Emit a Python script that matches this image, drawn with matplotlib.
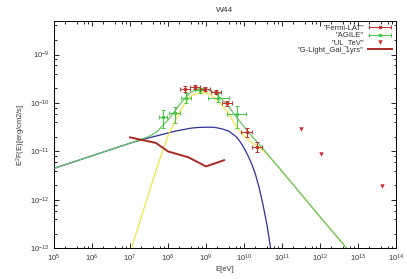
import numpy as np
import matplotlib
matplotlib.use("Agg")
import matplotlib.pyplot as plt
from matplotlib.ticker import LogLocator, FixedLocator, NullFormatter
from matplotlib.legend_handler import HandlerErrorbar
from matplotlib.container import ErrorbarContainer

plt.rcParams['font.family'] = ['Liberation Sans', 'DejaVu Sans']
plt.rcParams['mathtext.default'] = 'regular'

# ---------------- data ----------------
# Fermi-LAT points
fermi_E = [2.8e8, 5.1e8, 9.4e8, 1.8e9, 3.5e9, 1.17e10, 2.2e10]
fermi_F = [1.93e-10, 2.1e-10, 1.95e-10, 1.67e-10, 9.8e-11, 2.5e-11, 1.26e-11]
fermi_Flo = [1.7e-10, 1.9e-10, 1.8e-10, 1.5e-10, 8.8e-11, 1.95e-11, 9.8e-12]
fermi_Fhi = [2.2e-10, 2.3e-10, 2.1e-10, 1.85e-10, 1.1e-10, 3.1e-11, 1.6e-11]
fermi_Elo = [2.1e8, 3.8e8, 7.0e8, 1.35e9, 2.6e9, 8.5e9, 1.6e10]
fermi_Ehi = [3.8e8, 6.9e8, 1.27e9, 2.45e9, 4.7e9, 1.6e10, 3.0e10]

# AGILE points
agile_E = [7.4e7, 1.5e8, 2.97e8, 6.9e8, 2.1e9, 6.4e9]
agile_F = [5.06e-11, 6.1e-11, 1.28e-10, 1.84e-10, 1.28e-10, 5.9e-11]
agile_Flo = [3.0e-11, 3.8e-11, 1.02e-10, 1.63e-10, 1.04e-10, 3.0e-11]
agile_Fhi = [7.1e-11, 8.3e-11, 1.6e-10, 2.05e-10, 1.58e-10, 8.7e-11]
agile_Elo = [5.9e7, 1.08e8, 2.2e8, 5.1e8, 1.1e9, 3.5e9]
agile_Ehi = [9.3e7, 2.1e8, 4.0e8, 9.3e8, 4.0e9, 1.15e10]

# TeV upper limits
ul_E = [3.2e11, 1.05e12, 4.2e13]
ul_F = [2.95e-11, 8.7e-12, 1.95e-12]

# G-Light Galactic 1 yr sensitivity
glight_E = [1e7, 4.8e7, 1e8, 3.4e8, 1e9, 3e9]
glight_F = [1.95e-11, 1.5e-11, 1e-11, 7.6e-12, 4.9e-12, 6.6e-12]

# model curves (log10 E, log10 E^2F)
total_logE = [5.0, 6.0, 6.5, 7.0, 7.26, 7.5, 7.7, 7.88, 8.0, 8.14, 8.3, 8.45, 8.6,
              8.75, 8.9, 9.05, 9.2, 9.4, 9.6, 9.8, 10.0, 10.2, 10.4, 10.6, 11.0,
              11.5, 12.0, 12.5, 12.7]
total_logF = [-11.35, -11.09, -10.96, -10.83, -10.76, -10.69, -10.60, -10.45, -10.35,
              -10.21, -10.04, -9.90, -9.78, -9.72, -9.70, -9.72, -9.78, -9.91, -10.08,
              -10.29, -10.49, -10.68, -10.85, -11.04, -11.41, -11.88, -12.35, -12.81,
              -13.0]

pion_logE = [7.04, 7.2, 7.4, 7.6, 7.8, 8.0, 8.2, 8.4, 8.6, 8.8, 9.0, 9.2, 9.4, 9.6,
             9.8, 10.0, 10.2, 10.4, 10.6, 11.0, 11.5, 12.0, 12.5, 12.7]
pion_logF = [-13.0, -12.6, -12.1, -11.6, -11.12, -10.68, -10.35, -10.06, -9.86, -9.79,
             -9.79, -9.87, -10.03, -10.22, -10.49, -10.67, -10.82, -10.91, -11.05,
             -11.41, -11.88, -12.35, -12.81, -13.0]

brems_logE = [5.0, 6.0, 6.5, 7.0, 7.26, 7.5, 7.8, 8.0, 8.2, 8.4, 8.6, 8.8, 9.0, 9.2,
              9.4, 9.6, 9.8, 9.9, 10.0, 10.1, 10.2, 10.3, 10.4, 10.5, 10.6, 10.65, 10.7]
brems_logF = [-11.35, -11.09, -10.96, -10.83, -10.77, -10.72, -10.66, -10.62, -10.58,
              -10.55, -10.52, -10.505, -10.50, -10.50, -10.53, -10.58, -10.70, -10.80,
              -10.93, -11.08, -11.25, -11.47, -11.75, -12.1, -12.5, -12.74, -13.0]

xtick_exp = list(range(5, 15))
ytick_exp = [-13, -12, -11, -10, -9]

# ---------------- plot ----------------
fig = plt.figure(figsize=(4.07, 2.79), dpi=100)
ax = fig.add_axes([54/407, 1-248.3/279, (396-54)/407, (248.3-20.7)/279])
ax.set_xscale('log')
ax.set_yscale('log')

c_fermi = '#c0302a'
c_agile = '#44c844'
c_total = '#66c466'
c_pion = '#f2e545'
c_brems = '#30309a'
c_gl = '#a82a22'

ax.plot(10**np.array(brems_logE), 10**np.array(brems_logF), color=c_brems, lw=0.9, zorder=2)
ax.plot(10**np.array(pion_logE), 10**np.array(pion_logF), color=c_pion, lw=0.9, zorder=2)
ax.plot(10**np.array(total_logE), 10**np.array(total_logF), color=c_total, lw=0.9, zorder=3)

fE = np.array(fermi_E); fF = np.array(fermi_F)
ax.errorbar(fE, fF,
            xerr=[fE - np.array(fermi_Elo), np.array(fermi_Ehi) - fE],
            yerr=[fF - np.array(fermi_Flo), np.array(fermi_Fhi) - fF],
            fmt='o', ms=1.6, color=c_fermi, ecolor=c_fermi, elinewidth=0.7, capsize=1.5,
            capthick=0.7, zorder=5)
aE = np.array(agile_E); aF = np.array(agile_F)
ax.errorbar(aE, aF,
            xerr=[aE - np.array(agile_Elo), np.array(agile_Ehi) - aE],
            yerr=[aF - np.array(agile_Flo), np.array(agile_Fhi) - aF],
            fmt='o', ms=1.6, color=c_agile, ecolor=c_agile, elinewidth=0.7, capsize=1.5,
            capthick=0.7, zorder=4)
ax.plot(ul_E, ul_F, 'v', color=c_fermi, ms=3.2, mec='none', zorder=5)
ax.plot(glight_E, glight_F, color=c_gl, lw=1.4, zorder=4)

# legend proxies
h1 = ax.errorbar([np.nan], [np.nan], xerr=[1], fmt='o', ms=1.6, color=c_fermi,
                 elinewidth=0.7, capsize=1.5, capthick=0.7)
h2 = ax.errorbar([np.nan], [np.nan], xerr=[1], fmt='o', ms=1.6, color=c_agile,
                 elinewidth=0.7, capsize=1.5, capthick=0.7)
h3, = ax.plot([], [], 'v', color=c_fermi, ms=3.2, mec='none')
h4, = ax.plot([], [], color=c_gl, lw=1.4)
leg = ax.legend([h1, h2, h3, h4],
                ['"Fermi-LAT"', '"AGILE"', '"UL_TeV"', '"G-Light_Gal_1yrs"'],
                loc='upper right', frameon=False, markerfirst=False, fontsize=5.5,
                handlelength=3.2, handletextpad=0.5, labelspacing=0.0,
                borderaxespad=0.3, borderpad=0.2,
                handler_map={ErrorbarContainer: HandlerErrorbar(xerr_size=1.45)})
for t in leg.get_texts():
    t.set_color('#333333')

ax.set_xlim(1e5, 1e14)
ax.set_ylim(1e-13, 5e-9)
ax.xaxis.set_major_locator(FixedLocator([10.0**e for e in xtick_exp]))
ax.set_xticklabels(['10$^{%d}$' % e for e in xtick_exp])
ax.yaxis.set_major_locator(FixedLocator([10.0**e for e in ytick_exp]))
ax.set_yticklabels(['10$^{%d}$' % e for e in ytick_exp])
ax.xaxis.set_minor_locator(LogLocator(base=10, subs=(2, 4, 6, 8), numticks=20))
ax.yaxis.set_minor_locator(LogLocator(base=10, subs=(2, 4, 6, 8), numticks=20))
ax.xaxis.set_minor_formatter(NullFormatter())
ax.yaxis.set_minor_formatter(NullFormatter())
ax.tick_params(which='both', direction='in', top=True, right=True, labelsize=5.5,
               labelcolor='#333333', width=0.6)
ax.tick_params(which='major', length=3.5)
ax.tick_params(which='minor', length=1.8)
for s in ax.spines.values():
    s.set_linewidth(0.7)

ax.set_xlabel('E[eV]', fontsize=5.5, color='#333333', labelpad=1)
ax.set_ylabel('E$^2$F(E)[erg/cm2/s]', fontsize=5.5, color='#333333', labelpad=1)
ax.set_title('W44', fontsize=6, color='#333333', pad=6)

fig.savefig('out.png', dpi=100)
